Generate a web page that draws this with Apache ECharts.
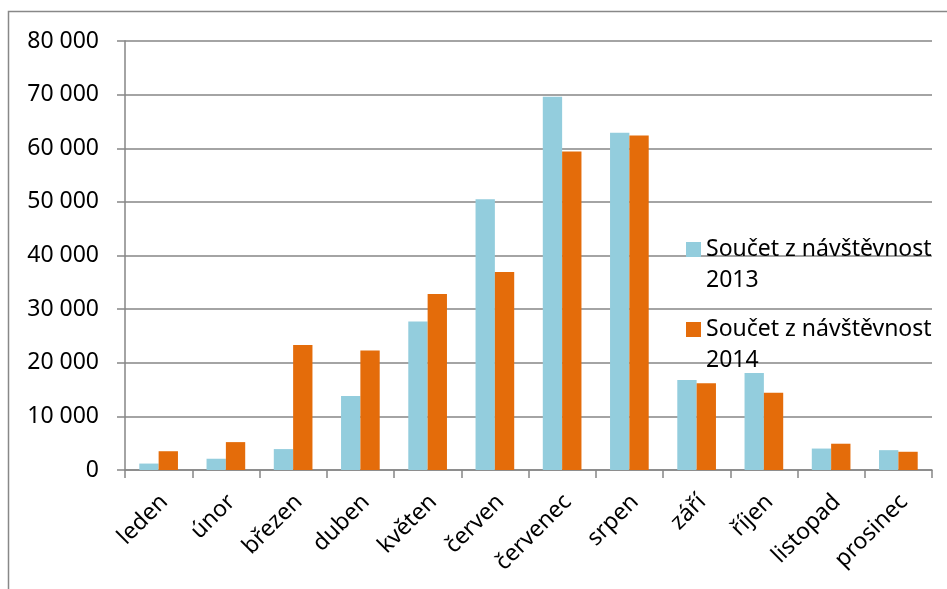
<!DOCTYPE html>
<html>
<head>
<meta charset="utf-8">
<style>
  html, body { margin: 0; padding: 0; background: #fff; }
  #chart { width: 947px; height: 589px; }
</style>
<script src="https://cdn.jsdelivr.net/npm/echarts@6/dist/echarts.min.js"></script>
</head>
<body>
<div id="chart"></div>
<script>
// Měsíce a návštěvnost po měsících
const months = ['leden', 'únor', 'březen', 'duben', 'květen', 'červen',
                'červenec', 'srpen', 'září', 'říjen', 'listopad', 'prosinec'];
const series2013Name = 'Součet z návštěvnost 2013';
const series2014Name = 'Součet z návštěvnost 2014';
const visits2013 = [1200, 2100, 3900, 13800, 27700, 50500, 69600, 62900, 16800, 18100, 4000, 3700];
const visits2014 = [3500, 5200, 23300, 22300, 32800, 36900, 59400, 62400, 16200, 14400, 4900, 3400];
const yTicks = { min: 0, max: 80000, step: 10000 };

const FONT = '"Noto Sans", "DejaVu Sans", sans-serif';
const GRID_GRAY = '#868686';

// Číslo s mezerou jako oddělovačem tisíců
function fmt(v) {
  return String(v).replace(/\B(?=(\d{3})+(?!\d))/g, ' ');
}

// Legenda: rok na druhém řádku, značka u prvního řádku
// (prázdný první řádek posune střed bloku na řádek s názvem)
function legendLabel(name) {
  return ' \n' + name.replace(/ (\d{4})$/, '\n$1');
}

const legendText = {
  fontFamily: FONT,
  fontSize: 23,
  color: '#000',
  lineHeight: 31
};

const chart = echarts.init(document.getElementById('chart'), null, { renderer: 'canvas' });
chart.setOption({
  animation: false,
  backgroundColor: '#fff',
  textStyle: { fontFamily: FONT },
  graphic: [{
    type: 'rect',
    shape: { x: 8.5, y: 11.5, width: 1200, height: 1000 },
    style: { fill: 'none', stroke: '#888888', lineWidth: 1.5 },
    silent: true,
    z: -1
  }],
  grid: { left: 125, right: 15, top: 41, bottom: 119, containLabel: false },
  legend: [
    {
      data: [series2013Name], left: 686, top: 203, padding: 0,
      itemWidth: 15, itemHeight: 15, icon: 'rect',
      formatter: legendLabel, textStyle: legendText
    },
    {
      data: [series2014Name], left: 686, top: 283, padding: 0,
      itemWidth: 15, itemHeight: 15, icon: 'rect',
      formatter: legendLabel, textStyle: legendText
    }
  ],
  xAxis: {
    type: 'category',
    data: months,
    axisLine: { show: true, lineStyle: { color: GRID_GRAY, width: 1.5 } },
    axisTick: { show: true, length: 8, lineStyle: { color: GRID_GRAY, width: 1.5 } },
    axisLabel: {
      rotate: 45, margin: 34, color: '#000',
      fontFamily: FONT, fontSize: 23, interval: 0,
      padding: [0, -8, 0, 0]
    },
    splitLine: { show: false }
  },
  yAxis: {
    type: 'value',
    min: yTicks.min, max: yTicks.max, interval: yTicks.step,
    axisLine: { show: true, lineStyle: { color: GRID_GRAY, width: 1.5 } },
    axisTick: { show: true, length: 8, lineStyle: { color: GRID_GRAY, width: 1.5 } },
    axisLabel: {
      margin: 26, color: '#000', fontFamily: FONT, fontSize: 23,
      formatter: fmt
    },
    splitLine: { show: true, lineStyle: { color: GRID_GRAY, width: 1.5 } }
  },
  series: [
    {
      name: series2013Name, type: 'bar', data: visits2013,
      itemStyle: { color: '#93CDDD' },
      barGap: '0%', barCategoryGap: '42.5%'
    },
    {
      name: series2014Name, type: 'bar', data: visits2014,
      itemStyle: { color: '#E46C0A' },
      barGap: '0%', barCategoryGap: '42.5%'
    }
  ]
});
</script>
</body>
</html>
